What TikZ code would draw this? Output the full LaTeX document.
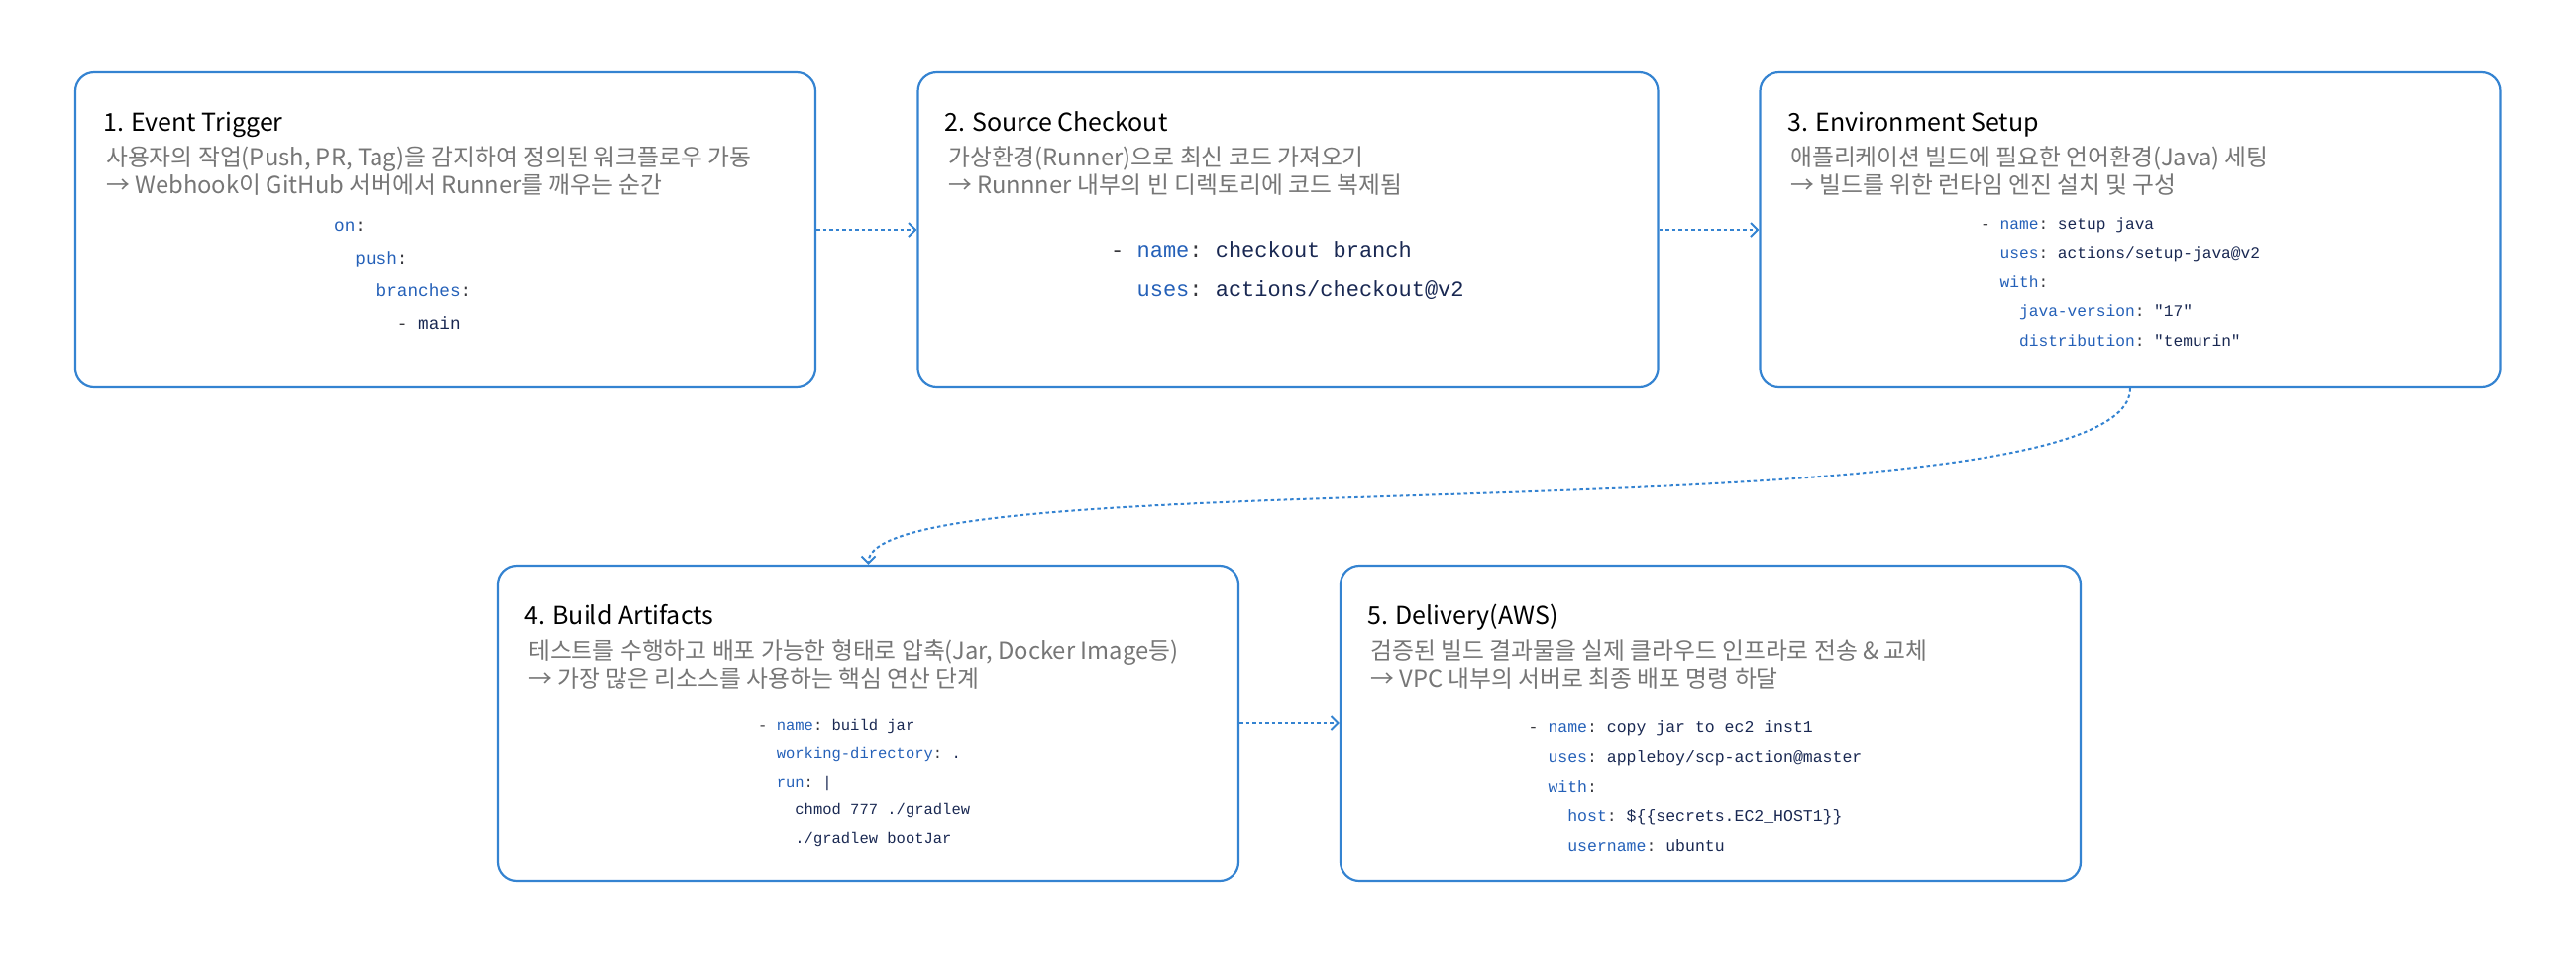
\documentclass[tikz,border=0pt]{standalone}
\usepackage{fontspec}
\setmainfont{Noto Sans CJK KR}
\setmonofont{Liberation Mono}
\usetikzlibrary{arrows.meta}

\definecolor{lineblue}{RGB}{52,131,209}
\definecolor{keyblue}{RGB}{36,96,184}
\definecolor{valnavy}{RGB}{25,40,82}
\definecolor{codedark}{RGB}{55,55,60}
\definecolor{descgrey}{RGB}{118,118,118}

\newcommand{\yk}[1]{\textcolor{keyblue}{#1}}
\newcommand{\yv}[1]{\textcolor{valnavy}{#1}}
\newcommand{\indt}{\hphantom{00}}
\newcommand{\codefont}[2]{\fontsize{#1}{#2}\selectfont\ttfamily}

\begin{document}
\begin{tikzpicture}[x=1pt,y=-1pt,
  stepbox/.style={draw=lineblue, line width=2.2pt, rounded corners=19pt,
    minimum width=747pt, minimum height=318pt, inner sep=0pt},
  titletext/.style={anchor=base west, inner sep=0pt,
    font=\fontsize{25pt}{30pt}\selectfont},
  desctext/.style={anchor=base west, inner sep=0pt, align=left, text=descgrey,
    font=\fontsize{23.8pt}{28pt}\selectfont},
  codetext/.style={anchor=base west, inner sep=0pt, align=left, text=codedark},
  flow/.style={draw=lineblue, line width=2pt, dash pattern=on 3.5pt off 3pt,
    -{Straight Barb[length=7pt,width=14pt]}}
]
\useasboundingbox (0,0) rectangle (2600,962);

% 1. Draw the five step boxes
\node[stepbox] (b1) at (449.5,232) {};
\node[stepbox] (b2) at (1300,232) {};
\node[stepbox] (b3) at (2150,232) {};
\node[stepbox] (b4) at (876.5,730) {};
\node[stepbox] (b5) at (1726.5,730) {};

% 2. Titles
\node[titletext] (t1) at (104,132) {1. Event Trigger};
\node[titletext] (t2) at (953,132) {2. Source Checkout};
\node[titletext] (t3) at (1804,132) {3. Environment Setup};
\node[titletext] (t4) at (529,630) {4. Build Artifacts};
\node[titletext] (t5) at (1380,630) {5. Delivery(AWS)};

% 3. Descriptions (anchor sits on the second line)
\node[desctext] (d1) at (107,195) {사용자의 작업(Push, PR, Tag)을 감지하여 정의된 워크플로우 가동\\→ Webhook이 GitHub 서버에서 Runner를 깨우는 순간};
\node[desctext] (d2) at (957,195) {가상환경(Runner)으로 최신 코드 가져오기\\→ Runnner 내부의 빈 디렉토리에 코드 복제됨};
\node[desctext] (d3) at (1807,195) {애플리케이션 빌드에 필요한 언어환경(Java) 세팅\\→ 빌드를 위한 런타임 엔진 설치 및 구성};
\node[desctext] (d4) at (533,693) {테스트를 수행하고 배포 가능한 형태로 압축(Jar, Docker Image등)\\→ 가장 많은 리소스를 사용하는 핵심 연산 단계};
\node[desctext] (d5) at (1383,693) {검증된 빌드 결과물을 실제 클라우드 인프라로 전송 \& 교체\\→ VPC 내부의 서버로 최종 배포 명령 하달};

% 4. Workflow snippets (anchor sits on the last line)
\node[codetext, font=\codefont{17.7pt}{33pt}] (c1) at (337,332)
  {\yk{on}:\\
   \indt\yk{push}:\\
   \indt\indt\yk{branches}:\\
   \indt\indt\indt- \yv{main}};
\node[codetext, font=\codefont{22pt}{40pt}] (c2) at (1121,299)
  {- \yk{name}: \yv{checkout branch}\\
   \indt\yk{uses}: \yv{actions/checkout@v2}};
\node[codetext, font=\codefont{16.2pt}{29.5pt}] (c3) at (1999,349)
  {- \yk{name}: \yv{setup java}\\
   \indt\yk{uses}: \yv{actions/setup-java@v2}\\
   \indt\yk{with}:\\
   \indt\indt\yk{java-version}: \yv{"17"}\\
   \indt\indt\yk{distribution}: \yv{"temurin"}};
\node[codetext, font=\codefont{15.5pt}{28.5pt}] (c4) at (765,851)
  {- \yk{name}: \yv{build jar}\\
   \indt\yk{working-directory}: \yv{.}\\
   \indt\yk{run}: \yv{|}\\
   \indt\indt\yv{chmod 777 ./gradlew}\\
   \indt\indt\yv{./gradlew bootJar}};
\node[codetext, font=\codefont{16.5pt}{30pt}] (c5) at (1542.5,859)
  {- \yk{name}: \yv{copy jar to ec2 inst1}\\
   \indt\yk{uses}: \yv{appleboy/scp-action@master}\\
   \indt\yk{with}:\\
   \indt\indt\yk{host}: \yv{\$\{\{secrets.EC2\_HOST1\}\}}\\
   \indt\indt\yk{username}: \yv{ubuntu}};

% 5. Connectors between the steps
\draw[flow] (b1.east) -- (b2.west);
\draw[flow] (b2.east) -- (b3.west);
\draw[flow] (b3.south) .. controls +(0,155) and +(0,-111) .. (b4.north);
\draw[flow] (b4.east) -- (b5.west);

\end{tikzpicture}
\end{document}
